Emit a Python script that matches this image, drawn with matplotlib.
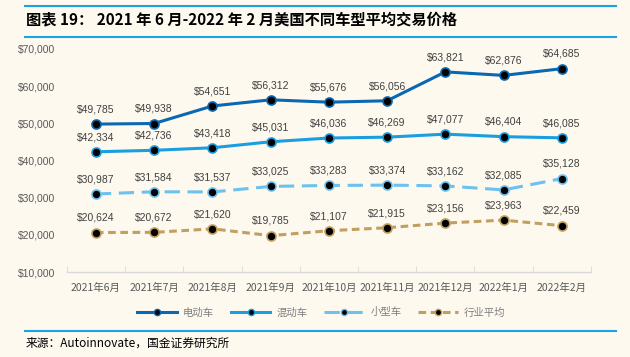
import matplotlib.pyplot as plt
from matplotlib.lines import Line2D
import numpy as np

plt.rcParams['font.family'] = ['Noto Sans CJK SC', 'DejaVu Sans']

months = ['2021年6月', '2021年7月', '2021年8月', '2021年9月', '2021年10月',
          '2021年11月', '2021年12月', '2022年1月', '2022年2月']
ev = [49785, 49938, 54651, 56312, 55676, 56056, 63821, 62876, 64685]
hybrid = [42334, 42736, 43418, 45031, 46036, 46269, 47077, 46404, 46085]
small = [30987, 31584, 31537, 33025, 33283, 33374, 33162, 32085, 35128]
industry = [20624, 20672, 21620, 19785, 21107, 21915, 23156, 23963, 22459]
names = ['电动车', '混动车', '小型车', '行业平均']

bg = '#fdf9ef'
colors = ['#0a67b1', '#1a9ee0', '#6cc1ee', '#c19f5f']
styles = ['-', '-', (0, (5, 2.5)), (0, (2.5, 1.5))]

fig = plt.figure(figsize=(6.3, 3.57), dpi=100, facecolor=bg)
ax = fig.add_axes([0.106, 0.238, 0.832, 0.625], facecolor=bg)

x = np.arange(len(months))
for vals, c, ls, name in zip([ev, hybrid, small, industry], colors, styles, names):
    ax.plot(x, vals, color=c, lw=2.2, ls=ls, marker='o', ms=6.5,
            mfc='black', mec=c, mew=1.2, label=name)
    for xi, v in zip(x, vals):
        ax.annotate('${:,}'.format(v), (xi, v), xytext=(0, 7), textcoords='offset points',
                    ha='center', va='bottom', fontsize=7.5, color='#404040',
                    family=['Liberation Sans', 'DejaVu Sans'])

ax.set_xlim(-0.5, 8.5)
ax.set_ylim(10000, 70000)
ax.set_yticks(range(10000, 70001, 10000))
ax.set_yticklabels(['${:,}'.format(v) for v in range(10000, 70001, 10000)],
                   fontsize=7.5, color='#595959', family=['Liberation Sans', 'DejaVu Sans'])
ax.set_xticks(x)
ax.set_xticklabels(months, fontsize=7.5, color='#595959')
ax.set_xticks(np.arange(-0.5, 9, 1), minor=True)
ax.tick_params(axis='x', which='major', length=0, pad=8)
ax.tick_params(axis='x', which='minor', length=4, color='#d9d9d9', direction='in')
ax.tick_params(axis='y', length=0, pad=8)
for s in ['top', 'right', 'left']:
    ax.spines[s].set_visible(False)
ax.spines['bottom'].set_color('#d9d9d9')
ax.spines['bottom'].set_linewidth(1)

leg_handles = [Line2D([0], [0], color=c, lw=2.2, ls=ls, marker='o', ms=4.5, mfc='black', mec=c)
               for c, ls in zip(colors, styles)]
fig.legend(leg_handles, names, loc='center', bbox_to_anchor=(0.51, 0.125), ncol=4,
           frameon=False, fontsize=7.5, handlelength=3.8, columnspacing=1.6,
           handletextpad=0.6, labelcolor='#7f7f7f')

# title, rules, source
fig.add_artist(Line2D([0.04, 0.978], [0.982, 0.982], color='#1aa3e0', lw=1.5))
fig.add_artist(Line2D([0.04, 0.978], [0.895, 0.895], color='#1aa3e0', lw=1.5))
fig.text(0.042, 0.945, '图表 19： 2021 年 6 月-2022 年 2 月美国不同车型平均交易价格', fontsize=11,
         fontweight='bold', style='italic', va='center', ha='left', color='black')
fig.add_artist(Line2D([0.04, 0.978], [0.072, 0.072], color='#1aa3e0', lw=1.5))
fig.text(0.04, 0.038, '来源：Autoinnovate，国金证券研究所', fontsize=8.5, va='center',
         ha='left', color='black')

fig.savefig('out.png', dpi=100, facecolor=bg)
